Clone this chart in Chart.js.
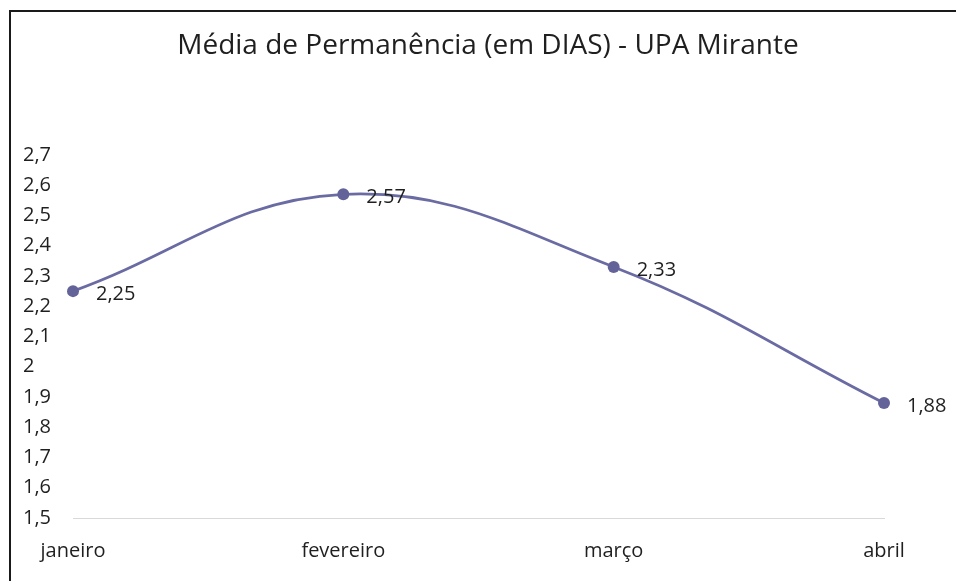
<!DOCTYPE html>
<html>
<head>
<meta charset="utf-8">
<script src="https://cdn.jsdelivr.net/npm/chart.js@4"></script>
<style>
  body { margin: 0; background: #fff; }
  #frame { position: absolute; left: 9px; top: 10px; width: 947px; height: 571px;
           border-left: 2px solid #1a1a1a; border-top: 2px solid #1a1a1a; }
  canvas { position: absolute; left: 0; top: 0; }
</style>
</head>
<body>
<div id="frame"></div>
<canvas id="chart" width="956" height="581"></canvas>
<script>
const title = 'Média de Permanência (em DIAS) - UPA Mirante';
const months = ['janeiro', 'fevereiro', 'março', 'abril'];
const mediaDias = [2.25, 2.57, 2.33, 1.88];
const yMin = 1.5;
const yMax = 2.7;

const fontFamily = '"Open Sans", sans-serif';
const lineColor = '#6b6ba4';

function fmt(v) {
    return String(Math.round(v * 100) / 100).replace('.', ',');
}

const titlePlugin = {
    id: 'topTitle',
    afterDraw(chart) {
        const c = chart.ctx;
        c.save();
        c.font = '28px ' + fontFamily;
        c.fillStyle = '#1f1f1f';
        c.textAlign = 'center';
        c.textBaseline = 'middle';
        c.fillText(title, 488, 46);
        c.restore();
    }
};

const labelPlugin = {
    id: 'pointLabels',
    afterDatasetsDraw(chart) {
        const c = chart.ctx;
        const meta = chart.getDatasetMeta(0);
        c.save();
        c.font = '20px ' + fontFamily;
        c.fillStyle = '#1f1f1f';
        c.textAlign = 'left';
        c.textBaseline = 'middle';
        meta.data.forEach((pt, i) => {
            c.fillText(fmt(mediaDias[i]), pt.x + 23, pt.y + 3);
        });
        c.restore();
    }
};

new Chart(document.getElementById('chart').getContext('2d'), {
    type: 'line',
    data: {
        labels: months,
        datasets: [{
            data: mediaDias,
            borderColor: lineColor,
            backgroundColor: lineColor,
            borderWidth: 2.75,
            pointRadius: 6,
            pointHoverRadius: 6,
            pointBackgroundColor: '#63639a',
            pointBorderWidth: 0,
            tension: 0.4,
            fill: false
        }]
    },
    options: {
        responsive: false,
        animation: false,
        layout: { padding: { left: 23, right: 72, top: 155, bottom: 18 } },
        plugins: {
            legend: { display: false },
            title: { display: false },
            tooltip: { enabled: false }
        },
        scales: {
            x: {
                offset: false,
                grid: { display: false, drawTicks: false },
                border: { display: true, color: '#d9d9d9', width: 1 },
                ticks: {
                    color: '#1f1f1f',
                    font: { family: fontFamily, size: 20 },
                    padding: 21,
                    maxRotation: 0
                },
                afterFit(scale) { scale.height = 45; }
            },
            y: {
                min: yMin,
                max: yMax,
                grid: { display: false, drawTicks: false },
                border: { display: false },
                ticks: {
                    stepSize: 0.1,
                    color: '#1f1f1f',
                    crossAlign: 'far',
                    font: { family: fontFamily, size: 20 },
                    callback: v => fmt(v)
                },
                afterFit(scale) { scale.width = 50; }
            }
        }
    },
    plugins: [titlePlugin, labelPlugin]
});
</script>
</body>
</html>
